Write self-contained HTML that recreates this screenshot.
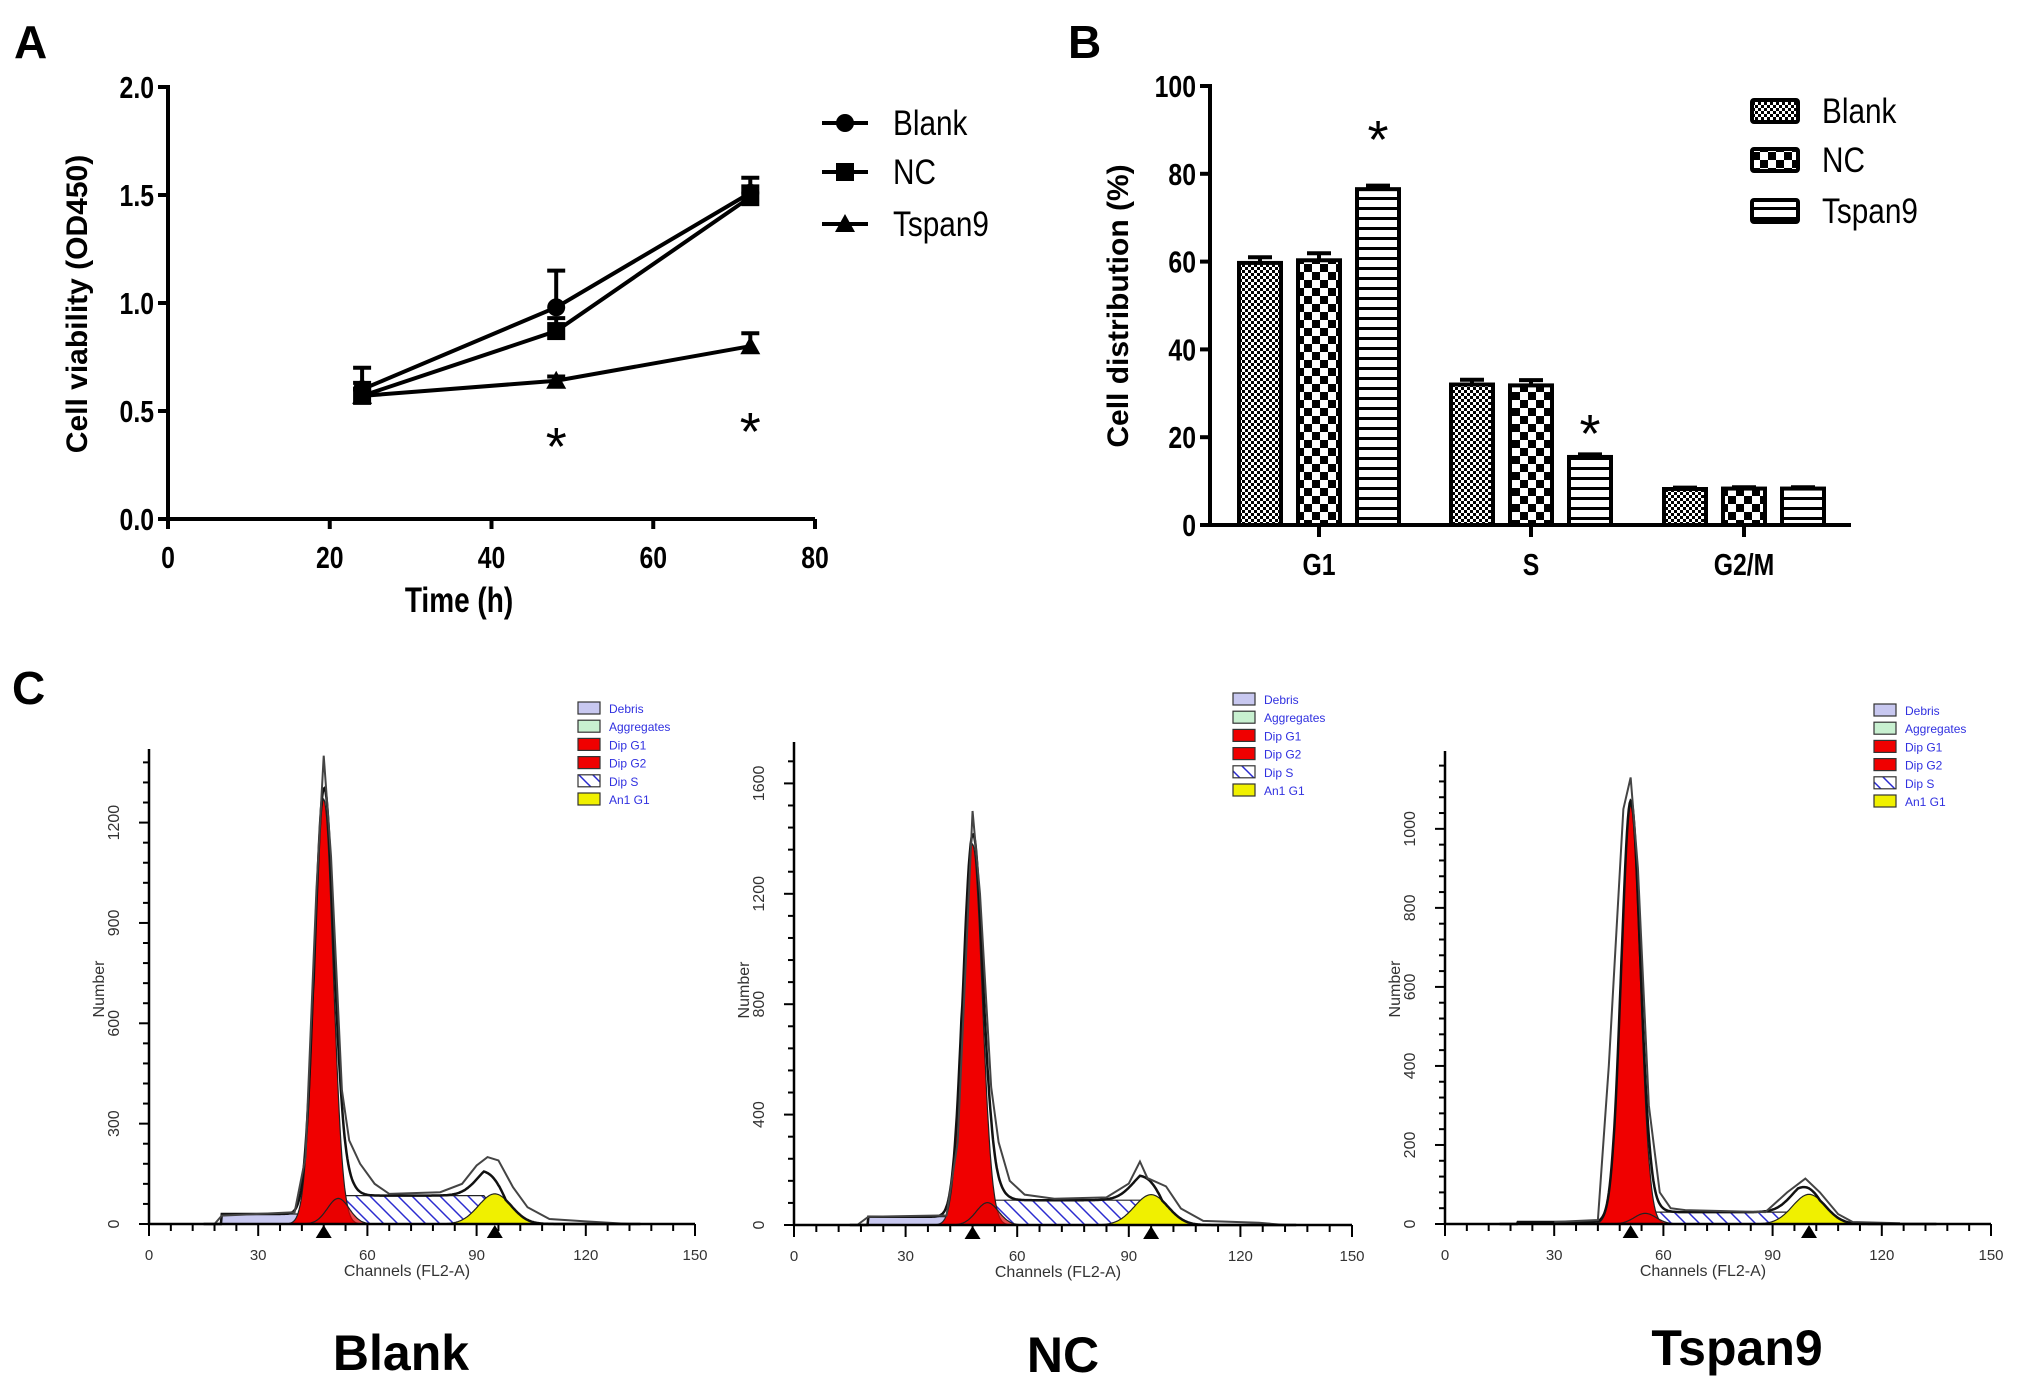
<!DOCTYPE html>
<html><head><meta charset="utf-8"><style>
html,body{margin:0;padding:0;background:#fff;}
svg{display:block;}
.nar{font-family:"Liberation Sans Narrow","Liberation Sans",sans-serif;font-weight:bold;}
.narn{font-family:"Liberation Sans Narrow","Liberation Sans",sans-serif;font-weight:normal;}
.sans{font-family:"Liberation Sans",sans-serif;}
</style></head><body>
<svg id="fig" width="2031" height="1390" viewBox="0 0 2031 1390" xmlns="http://www.w3.org/2000/svg">
<defs>
<pattern id="pBlank" width="6" height="6" patternUnits="userSpaceOnUse"><rect width="6" height="6" fill="#fff"/><rect width="3" height="3" fill="#000"/><rect x="3" y="3" width="3" height="3" fill="#000"/></pattern>
<pattern id="pNC" width="16" height="16" patternUnits="userSpaceOnUse"><rect width="16" height="16" fill="#fff"/><rect width="8" height="8" fill="#000"/><rect x="8" y="8" width="8" height="8" fill="#000"/></pattern>
<pattern id="pTs" width="10" height="10" patternUnits="userSpaceOnUse"><rect width="10" height="10" fill="#fff"/><rect y="7" width="10" height="3" fill="#000"/></pattern>
<pattern id="pHatch" width="14" height="14" patternUnits="userSpaceOnUse"><rect width="14" height="14" fill="#fff"/><path d="M0,0 L14,14 M-7,7 L7,21 M7,-7 L21,7" stroke="#2b2bd0" stroke-width="1.5"/></pattern>
</defs>
<g id="gA"></g>
<g id="gB"></g>
<g id="gC"></g>
</svg>
<script>
// ---------- Panel A data ----------
const timeX = [24, 48, 72];
const blankOD = [0.60, 0.98, 1.51];
const blankErr = [0.10, 0.17, 0.07];
const ncOD = [0.57, 0.87, 1.49];
const ncErr = [0.06, 0.06, 0.05];
const tspanOD = [0.57, 0.64, 0.80];
const tspanErr = [0.03, 0.02, 0.06];
const aXTicks = [0, 20, 40, 60, 80];
const aYTicks = [0.0, 0.5, 1.0, 1.5, 2.0];
const aYLabels = ["0.0", "0.5", "1.0", "1.5", "2.0"];
const aStarX = [48, 72];
const aStarY = [0.37, 0.44];
// ---------- Panel B data ----------
const phases = ["G1", "S", "G2/M"];
const blankPct = [59.7, 32.0, 8.2];
const ncPct = [60.3, 31.8, 8.3];
const tspanPct = [76.5, 15.5, 8.3];
const blankPctErr = [1.3, 1.1, 0.3];
const ncPctErr = [1.6, 1.2, 0.3];
const tspanPctErr = [0.8, 0.6, 0.3];
const bYTicks = [0, 20, 40, 60, 80, 100];
const bStarPhase = [0, 1];
const bStarVal = [90, 23];
// ---------- Panel C data ----------
const histNames = ["Blank", "NC", "Tspan9"];
const g1Mean = [48, 48, 51];
const g1Height = [1270, 1380, 1060];
const g2Mean = [95, 96, 100];
const g2Height = [90, 110, 75];
const sLevel = [85, 90, 30];
const debrisLevel = [30, 30, 5];
const yMaxC = [1420, 1750, 1197];
const yTickStep = [300, 400, 200];
const rawBlank = [[18,0],[20,25],[40,35],[43,200],[46,1000],[48,1400],[50,1100],[53,400],[55,250],[58,180],[62,120],[66,90],[80,95],[86,120],[90,175],[93,200],[96,190],[100,110],[104,50],[110,15],[120,8],[132,0]];
const rawNC = [[17,0],[20,30],[41,35],[44,300],[47,1200],[48,1500],[50,1200],[53,500],[55,300],[58,160],[62,110],[70,95],[84,100],[90,150],[93,230],[95,170],[100,140],[104,60],[110,15],[125,8],[132,0]];
const rawTs = [[30,5],[42,10],[45,400],[49,1050],[51,1130],[53,900],[56,300],[59,80],[62,40],[66,35],[88,30],[94,80],[99,115],[103,80],[108,25],[112,5],[125,2]];
const legendItems = ["Debris", "Aggregates", "Dip G1", "Dip G2", "Dip S", "An1 G1"];
const legendFills = ["#c8c8f0", "#c8f0d0", "#f00000", "#f00000", "url(#pHatch)", "#f0f000"];

const NS = "http://www.w3.org/2000/svg";
function mk(parent, tag, attrs, text) {
  const e = document.createElementNS(NS, tag);
  for (const k in attrs) e.setAttribute(k, attrs[k]);
  if (text !== undefined) e.textContent = text;
  parent.appendChild(e);
  return e;
}
// condensed text: horizontally squeezed
function mkN(parent, x, y, anchor, cls, size, text, sc) {
  return mk(parent, 'text', {x: 0, y: 0, 'text-anchor': anchor, class: cls, 'font-size': size, transform: `translate(${x},${y}) scale(${sc || 0.8},1)`}, text);
}

// ================= Panel A =================
(function () {
  const g = document.getElementById('gA');
  const x0 = 168, x1 = 815, y0 = 519, y1 = 87;
  const sx = v => x0 + (v - 0) / 80 * (x1 - x0);
  const sy = v => y0 - v / 2 * (y0 - y1);
  let t = mk(g, 'text', {x: 14, y: 58, class: 'sans', 'font-weight': 'bold', 'font-size': 46}, 'A');
   
  let ax = mk(g, 'path', {d: `M${x0},${y1 - 2} L${x0},${y0} L${x1},${y0}`, stroke: '#000', 'stroke-width': 4, fill: 'none'});
   
  aYTicks.forEach((v, i) => {
    mk(g, 'line', {x1: x0 - 10, x2: x0, y1: sy(v), y2: sy(v), stroke: '#000', 'stroke-width': 4});
    const l = mkN(g, x0 - 14, sy(v) + 11, 'end', 'nar', 31, aYLabels[i]);
     
  });
  aXTicks.forEach(v => {
    mk(g, 'line', {x1: sx(v), x2: sx(v), y1: y0, y2: y0 + 10, stroke: '#000', 'stroke-width': 4});
    const l = mkN(g, sx(v), y0 + 49, 'middle', 'nar', 31, v);
     
  });
  t = mkN(g, 459, 612, 'middle', 'nar', 35, 'Time (h)');
   
  t = mk(g, 'text', {x: 0, y: 0, 'text-anchor': 'middle', class: 'sans', 'font-weight': 'bold', 'font-size': 30, transform: 'translate(87,304) rotate(-90)'}, 'Cell viability (OD450)');
   

  const series = [[blankOD, blankErr, 'circle', 'Blank'], [ncOD, ncErr, 'square', 'NC'], [tspanOD, tspanErr, 'triangle', 'Tspan9']];
  function marker(p, cx, cy, shape) {
    if (shape === 'circle') return mk(p, 'circle', {cx, cy, r: 9, fill: '#000'});
    if (shape === 'square') return mk(p, 'rect', {x: cx - 9, y: cy - 9, width: 18, height: 18, fill: '#000'});
    return mk(p, 'path', {d: `M${cx},${cy - 10} L${cx + 10},${cy + 8} L${cx - 10},${cy + 8} Z`, fill: '#000'});
  }
  series.forEach(([vals, errs, shape, name]) => {
    const sg = mk(g, 'g', {});
     
    const pts = vals.map((v, i) => sx(timeX[i]) + ',' + sy(v)).join(' ');
    mk(sg, 'polyline', {points: pts, stroke: '#000', 'stroke-width': 4, fill: 'none'});
    vals.forEach((v, i) => {
      const cx = sx(timeX[i]);
      mk(sg, 'line', {x1: cx, x2: cx, y1: sy(v), y2: sy(v + errs[i]), stroke: '#000', 'stroke-width': 4});
      mk(sg, 'line', {x1: cx - 9, x2: cx + 9, y1: sy(v + errs[i]), y2: sy(v + errs[i]), stroke: '#000', 'stroke-width': 4});
      const m = marker(sg, cx, sy(v), shape);
       
    });
  });
  aStarX.forEach((v, i) => {
    const s = mk(g, 'text', {x: sx(v), y: sy(aStarY[i]) + 26, 'text-anchor': 'middle', class: 'sans', 'font-size': 54}, '*');
     
  });
  const legY = [123, 172, 224], legShapes = ['circle', 'square', 'triangle'], legNames = ['Blank', 'NC', 'Tspan9'];
  legNames.forEach((n, i) => {
    const lg = mk(g, 'g', {});
     
    mk(lg, 'line', {x1: 822, x2: 868, y1: legY[i], y2: legY[i], stroke: '#000', 'stroke-width': 4});
    marker(lg, 845, legY[i], legShapes[i]);
    mkN(lg, 893, legY[i] + 12, 'start', 'narn', 35, n, 0.85);
  });
})();

// ================= Panel B =================
(function () {
  const g = document.getElementById('gB');
  const x0 = 1210, x1 = 1851, y0 = 525, y1 = 86;
  const sy = v => y0 - v / 100 * (y0 - y1);
  const groupC = [1319, 1531, 1744], bw = 42, step = 59;
  let t = mk(g, 'text', {x: 1068, y: 58, class: 'sans', 'font-weight': 'bold', 'font-size': 46}, 'B');
   
  const fills = ['url(#pBlank)', 'url(#pNC)', 'url(#pTs)'];
  const sets = [[blankPct, blankPctErr, 'blank'], [ncPct, ncPctErr, 'nc'], [tspanPct, tspanPctErr, 'tspan9']];
  phases.forEach((p, pi) => {
    sets.forEach(([vals, errs, nm], si) => {
      const cx = groupC[pi] + (si - 1) * step;
      mk(g, 'line', {x1: cx, x2: cx, y1: sy(vals[pi]), y2: sy(vals[pi] + errs[pi]), stroke: '#000', 'stroke-width': 4});
      mk(g, 'line', {x1: cx - 12, x2: cx + 12, y1: sy(vals[pi] + errs[pi]), y2: sy(vals[pi] + errs[pi]), stroke: '#000', 'stroke-width': 4});
      const r = mk(g, 'rect', {x: cx - bw / 2, y: sy(vals[pi]), width: bw, height: y0 - sy(vals[pi]), fill: fills[si], stroke: '#000', 'stroke-width': 4});
       
    });
    mk(g, 'line', {x1: groupC[pi], x2: groupC[pi], y1: y0, y2: y0 + 12, stroke: '#000', 'stroke-width': 4});
    const l = mkN(g, groupC[pi], y0 + 50, 'middle', 'nar', 31, p);
     
  });
  let ax = mk(g, 'path', {d: `M${x0},${y1 - 2} L${x0},${y0} L${x1},${y0}`, stroke: '#000', 'stroke-width': 4, fill: 'none'});
   
  bYTicks.forEach(v => {
    mk(g, 'line', {x1: x0 - 10, x2: x0, y1: sy(v), y2: sy(v), stroke: '#000', 'stroke-width': 4});
    const l = mkN(g, x0 - 14, sy(v) + 11, 'end', 'nar', 31, v);
     
  });
  t = mk(g, 'text', {x: 0, y: 0, 'text-anchor': 'middle', class: 'sans', 'font-weight': 'bold', 'font-size': 30, transform: 'translate(1128,306) rotate(-90)'}, 'Cell distribution (%)');
   
  bStarPhase.forEach((pi, i) => {
    const s = mk(g, 'text', {x: groupC[pi] + step, y: sy(bStarVal[i]) + 28, 'text-anchor': 'middle', class: 'sans', 'font-size': 54}, '*');
     
  });
  const legY = [111, 160, 211], legN = ['Blank', 'NC', 'Tspan9'];
  legN.forEach((n, i) => {
    const lg = mk(g, 'g', {});
     
    mk(lg, 'rect', {x: 1752, y: legY[i] - 11, width: 46, height: 22, fill: fills[i], stroke: '#000', 'stroke-width': 4, rx: 2});
    mkN(lg, 1822, legY[i] + 12, 'start', 'narn', 35, n, 0.85);
  });
})();

// ================= Panel C =================
(function () {
  const g = document.getElementById('gC');
  let t = mk(g, 'text', {x: 12, y: 704, class: 'sans', 'font-weight': 'bold', 'font-size': 46}, 'C');
   
  const geo = [
    {x0: 149, x1: 695, y0: 1224, top: 749, legX: 578, legY: 708, labX: 401, labY: 1370},
    {x0: 794, x1: 1352, y0: 1225, top: 742, legX: 1233, legY: 699, labX: 1063, labY: 1372},
    {x0: 1445, x1: 1991, y0: 1224, top: 751, legX: 1874, legY: 710, labX: 1737, labY: 1365}
  ];
  const raws = [rawBlank, rawNC, rawTs];
  const gauss = (x, m, h, s) => h * Math.exp(-0.5 * ((x - m) / s) ** 2);
  geo.forEach((o, k) => {
    const pg = mk(g, 'g', {});
     
    const sx = v => o.x0 + v / 150 * (o.x1 - o.x0);
    const sy = v => o.y0 - v / yMaxC[k] * (o.y0 - o.top);
    const m1 = g1Mean[k], m2 = g2Mean[k];
    const debris = x => (x >= 20 && x <= m1 - 3) ? debrisLevel[k] : 0;
    const sComp = x => {
      if (x < m1 || x > m2 + 3) return 0;
      if (x < m1 + 5) return sLevel[k] * (x - m1) / 5;
      if (x > m2 - 3) return sLevel[k] * (m2 + 3 - x) / 6;
      return sLevel[k];
    };
    const g1 = x => gauss(x, m1, g1Height[k], 2.6);
    const hump = x => gauss(x, m1 + 4, sLevel[k] * 0.9, 3);
    const g2 = x => gauss(x, m2, g2Height[k], 4.5);
    const xs = []; for (let x = 15; x <= 135; x += 0.25) xs.push(x);
    const poly = (f, fill, name) => {
      const d = 'M' + xs.map(x => sx(x).toFixed(1) + ',' + sy(f(x)).toFixed(1)).join(' L') + ` L${sx(135)},${o.y0} L${sx(15)},${o.y0} Z`;
      const p = mk(pg, 'path', {d, fill, stroke: '#222', 'stroke-width': 1.2});
       
    };
    poly(debris, '#c8c8f0', 'debris-area');
    poly(sComp, 'url(#pHatch)', 's-phase-area');
    poly(g2, '#f0f000', 'g2-peak-area');
    poly(g1, '#f00000', 'g1-peak-area');
    poly(hump, 'rgba(230,0,0,0.7)', 'dip-g2-area');
    const env = x => debris(x) + sComp(x) + g1(x) + g2(x) + hump(x);
    const ed = 'M' + xs.map(x => sx(x).toFixed(1) + ',' + sy(env(x)).toFixed(1)).join(' L');
    const ep = mk(pg, 'path', {d: ed, fill: 'none', stroke: '#111', 'stroke-width': 2.5});
     
    const rp = mk(pg, 'polyline', {points: raws[k].map(p => sx(p[0]) + ',' + sy(p[1])).join(' '), fill: 'none', stroke: '#444', 'stroke-width': 2});
     
    const ax = mk(pg, 'path', {d: `M${o.x0},${o.top} L${o.x0},${o.y0} L${o.x1},${o.y0}`, stroke: '#000', 'stroke-width': 2.5, fill: 'none'});
     
    for (let v = 0; v <= 150; v += 6) {
      const big = v % 30 === 0;
      mk(pg, 'line', {x1: sx(v), x2: sx(v), y1: o.y0, y2: o.y0 + (big ? 12 : 7), stroke: '#000', 'stroke-width': 2});
      if (big) {
        const l = mk(pg, 'text', {x: sx(v), y: o.y0 + 36, 'text-anchor': 'middle', class: 'sans', 'font-size': 15, fill: '#333'}, v);
         
      }
    }
    const minor = yTickStep[k] / 5;
    for (let v = 0; v <= yMaxC[k]; v += minor) {
      const big = Math.abs(v % yTickStep[k]) < 1e-6;
      mk(pg, 'line', {x1: o.x0 - (big ? 10 : 6), x2: o.x0, y1: sy(v), y2: sy(v), stroke: '#000', 'stroke-width': 2});
      if (big) {
        const l = mk(pg, 'text', {x: 0, y: 0, 'text-anchor': 'middle', class: 'sans', 'font-size': 16, fill: '#333', transform: `translate(${o.x0 - 30},${sy(v)}) rotate(-90)`}, Math.round(v));
         
      }
    }
    [m1, m2].forEach(m => mk(pg, 'path', {d: `M${sx(m)},${o.y0 + 1} l8,13 l-16,0 Z`, fill: '#000'}));
    let tt = mk(pg, 'text', {x: (o.x0 + o.x1) / 2 - 15, y: o.y0 + 52, 'text-anchor': 'middle', class: 'sans', 'font-size': 16, fill: '#333'}, 'Channels (FL2-A)');
     
    tt = mk(pg, 'text', {x: 0, y: 0, 'text-anchor': 'middle', class: 'sans', 'font-size': 16, fill: '#333', transform: `translate(${o.x0 - 45},${o.y0 - 235}) rotate(-90)`}, 'Number');
     
    legendItems.forEach((n, i) => {
      const lg = mk(pg, 'g', {});
       
      mk(lg, 'rect', {x: o.legX, y: o.legY + i * 18.2 - 6, width: 22, height: 12, fill: legendFills[i], stroke: '#333', 'stroke-width': 1.2});
      mk(lg, 'text', {x: o.legX + 31, y: o.legY + i * 18.2 + 5, class: 'sans', 'font-size': 12, fill: '#3030e0'}, n);
    });
    tt = mk(pg, 'text', {x: o.labX, y: o.labY, 'text-anchor': 'middle', class: 'sans', 'font-weight': 'bold', 'font-size': 50}, histNames[k]);
     
  });
})();
</script>
</body></html>
